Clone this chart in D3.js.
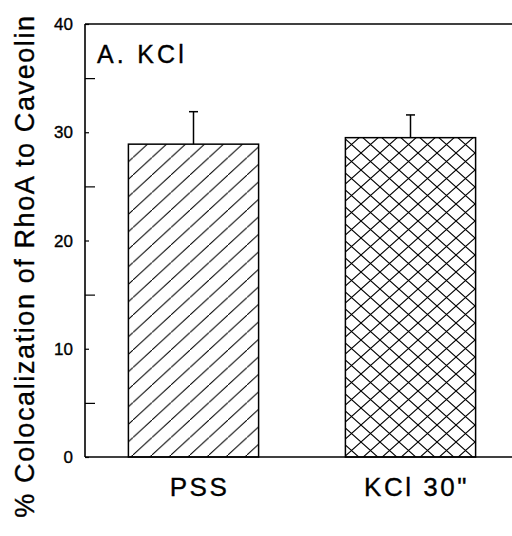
<!DOCTYPE html>
<html>
<head>
<meta charset="utf-8">
<script src="https://cdn.jsdelivr.net/npm/d3@7"></script>
<style>
  body { margin: 0; background: #fff; }
  text { font-family: "Liberation Sans", Arial, sans-serif; fill: #000; stroke: #000; stroke-width: 0.35px; }
</style>
</head>
<body>
<svg id="graph"></svg>
<script>
var categories = ['PSS', 'KCl 30"'];
var means = [28.9, 29.5];
var errors = [3.0, 2.1];
var yTicks = [0, 10, 20, 30, 40];
var yMinorTicks = [5, 15, 25, 35];

var width = 512, height = 536;
var margin = { top: 24, left: 85, bottom: 79 };

var svg = d3.select("#graph")
  .attr("width", width)
  .attr("height", height);

// patterns for the two bars
var defs = svg.append("defs");
defs.append("pattern")
    .attr("id", "hatch")
    .attr("patternUnits", "userSpaceOnUse")
    .attr("width", 19).attr("height", 17.5)
  .append("path")
    .attr("d", "M-1,18.42 L20,-0.92")
    .attr("stroke", "#000").attr("stroke-width", 1);

var cross = defs.append("pattern")
    .attr("id", "cross")
    .attr("patternUnits", "userSpaceOnUse")
    .attr("width", 19).attr("height", 17);
cross.append("path")
    .attr("d", "M-1,17.9 L20,-0.9 M-1,-0.9 L20,17.9")
    .attr("stroke", "#000").attr("stroke-width", 1.1);

// Set the ranges
var x = d3.scaleBand()
  .domain(categories)
  .range([margin.left, margin.left + 434])
  .paddingInner(0.4)
  .paddingOuter(0.2);
var y = d3.scaleLinear()
  .domain([0, 40])
  .range([height - margin.bottom, margin.top]);

var fills = ["url(#hatch)", "url(#cross)"];

// bars
svg.append("g")
  .selectAll("rect").data(means).enter().append("rect")
    .attr("x", (d, i) => x(categories[i]))
    .attr("y", d => y(d))
    .attr("width", x.bandwidth())
    .attr("height", d => y(0) - y(d))
    .attr("fill", (d, i) => fills[i])
    .attr("stroke", "#000")
    .attr("stroke-width", 1.5);

// error bars (upper only)
var eb = svg.append("g").attr("stroke", "#000").attr("stroke-width", 1.5);
eb.selectAll("line.v").data(means).enter().append("line")
    .attr("x1", (d, i) => x(categories[i]) + x.bandwidth() / 2)
    .attr("x2", (d, i) => x(categories[i]) + x.bandwidth() / 2)
    .attr("y1", d => y(d))
    .attr("y2", (d, i) => y(d + errors[i]));
eb.selectAll("line.c").data(means).enter().append("line")
    .attr("x1", (d, i) => x(categories[i]) + x.bandwidth() / 2 - 4.5)
    .attr("x2", (d, i) => x(categories[i]) + x.bandwidth() / 2 + 4.5)
    .attr("y1", (d, i) => y(d + errors[i]))
    .attr("y2", (d, i) => y(d + errors[i]));

// Y axis: major ticks short, minor ticks long, both inward
var yAxis = svg.append("g")
  .attr("transform", "translate(" + margin.left + ",0)")
  .call(d3.axisRight(y).tickValues(yTicks).tickSize(4).tickFormat(""));
yAxis.select(".domain").remove();
yAxis.selectAll("line").attr("stroke-width", 1.2);
svg.append("g")
  .attr("transform", "translate(" + margin.left + ",0)")
  .call(d3.axisRight(y).tickValues(yMinorTicks).tickSize(10).tickFormat(""))
  .call(g => g.select(".domain").remove())
  .selectAll("line").attr("stroke-width", 1.2);

// tick labels
svg.append("g")
  .selectAll("text").data(yTicks).enter().append("text")
    .attr("x", margin.left - 12)
    .attr("y", d => y(d))
    .attr("dy", "0.36em")
    .style("text-anchor", "end")
    .style("font-size", "17px")
    .text(d => d);

// frame lines
var frame = svg.append("g").attr("stroke", "#000").attr("stroke-width", 1.6);
frame.append("line")
  .attr("x1", margin.left).attr("x2", margin.left)
  .attr("y1", y(40)).attr("y2", y(0));
frame.append("line")
  .attr("x1", margin.left).attr("x2", width)
  .attr("y1", y(0)).attr("y2", y(0));
frame.append("line")
  .attr("x1", margin.left).attr("x2", width)
  .attr("y1", y(40)).attr("y2", y(40));

// category labels
svg.append("g")
  .selectAll("text").data(categories).enter().append("text")
    .attr("x", d => x(d) + x.bandwidth() / 2 + 6)
    .attr("y", 496)
    .style("text-anchor", "middle")
    .style("font-size", "26px")
    .style("letter-spacing", "2.5px")
    .text(d => d);

// panel label
svg.append("text")
  .attr("x", 97)
  .attr("y", 63)
  .style("font-size", "25px")
  .style("letter-spacing", "3.2px")
  .text("A. KCl");

// y axis title
svg.append("text")
  .attr("transform", "translate(34," + 266 + ") rotate(-90)")
  .style("text-anchor", "middle")
  .style("font-size", "27px")
  .style("letter-spacing", "1.6px")
  .text("% Colocalization of RhoA to Caveolin");
</script>
</body>
</html>
